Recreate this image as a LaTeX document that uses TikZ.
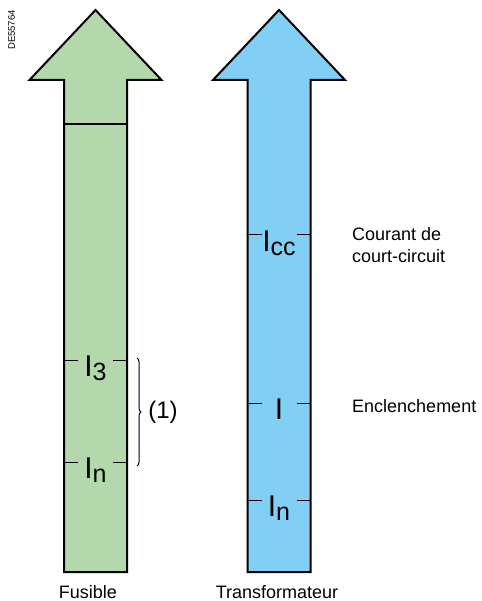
\documentclass[tikz,border=0pt]{standalone}
\usepackage{fontspec}
\setmainfont{Liberation Sans}
\usetikzlibrary{decorations.pathreplacing}

\definecolor{fusegreen}{RGB}{179,216,171}
\definecolor{trafoblue}{RGB}{129,207,244}

\newcommand*{\ytop}{10}
\newcommand*{\yhead}{80}
\newcommand*{\ybot}{572}
\newcommand*{\xfuse}{95.5}
\newcommand*{\xtrafo}{279}

% big arrow: centre x, fill colour
\newcommand*{\bigarrow}[2]{%
	\draw[arrowline,fill=#2] (#1,\ytop) -- ++(66,70) -- ++(-34.5,0) -- (#1+31.5,\ybot)
		-- (#1-31.5,\ybot) -- (#1-31.5,\yhead) -- ++(-34.5,0) -- cycle;}
% tick on a shaft: centre x, height, label
\newcommand*{\shafttick}[3]{%
	\draw[tickline] (#1-31.5,#2) -- ++(14,0);
	\draw[tickline] (#1+31.5,#2) -- ++(-14,0);
	\node[biglabel] at (#1,#2+16.5) {#3};}
\newcommand*{\cur}[1]{I\raisebox{-4pt}{\fontsize{25}{25}\selectfont #1}}

\begin{document}
\begin{tikzpicture}
[
	x=1pt,
	y=-1pt,
	arrowline/.style={line width=2pt,line join=miter},
	tickline/.style={line width=1pt},
	biglabel/.style={anchor=base,inner sep=0pt,font=\fontsize{30}{30}\selectfont},
	textlabel/.style={anchor=west,inner sep=0pt,align=left,font=\fontsize{18}{21.5}\selectfont},
	caption/.style={anchor=base,inner sep=0pt,font=\fontsize{18}{18}\selectfont}
]
	\useasboundingbox (0,0) rectangle (481,601);

	% reference number
	\node[rotate=90,inner sep=0pt,font=\fontsize{9.5}{9.5}\selectfont] (ref) at (11.5,30) {DE55764};

	% arrows
	\bigarrow{\xfuse}{fusegreen}
	\bigarrow{\xtrafo}{trafoblue}
	\draw[line width=1.2pt] (\xfuse-31.5,124) -- (\xfuse+31.5,124);

	% fuse
	\shafttick{\xfuse}{360}{\cur{3}}
	\shafttick{\xfuse}{462}{\cur{n}}
	\draw[line width=1pt,decorate,decoration={brace,amplitude=4pt}]
		(137,358) coordinate (bracetop) -- (137,466) coordinate (bracebot);
	\node[inner sep=0pt,font=\fontsize{24}{24}\selectfont] (note) at (163,412) {(1)};

	% transformer
	\shafttick{\xtrafo}{235}{\cur{cc}}
	\shafttick{\xtrafo}{403}{I}
	\shafttick{\xtrafo}{500}{\cur{n}}

	\node[textlabel] (icc) at (352,245) {Courant de\\court-circuit};
	\node[textlabel] (inrush) at (352,406) {Enclenchement};

	% captions
	\node[caption] (fuse) at (88,598) {Fusible};
	\node[caption] (trafo) at (277,598) {Transformateur};

\end{tikzpicture}
\end{document}
